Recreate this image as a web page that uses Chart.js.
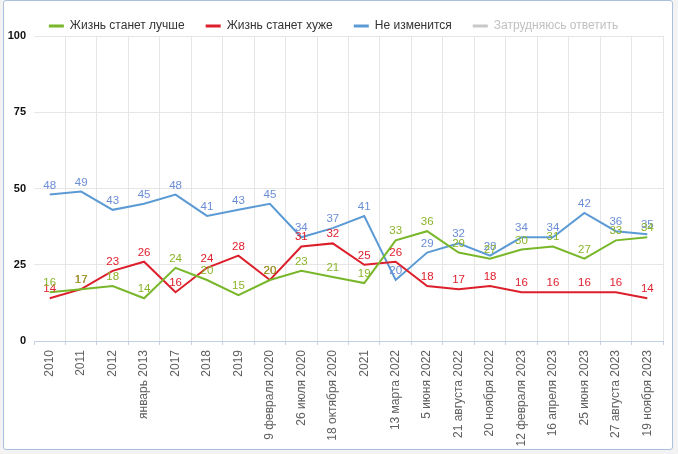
<!DOCTYPE html>
<html>
<head>
<meta charset="utf-8">
<script src="https://cdn.jsdelivr.net/npm/chart.js@4.4.1/dist/chart.umd.min.js"></script>
<style>
  html, body { margin: 0; padding: 0; background: #f3f3f3; width: 678px; height: 454px; overflow: hidden; }
  #box { position: absolute; left: 3px; top: 0px; width: 668px; height: 448px; border: 1px solid #a9bfdc; border-radius: 3px; background: #fff; }
  #c { display: block; }
</style>
</head>
<body>
<div id="box"><canvas id="c" width="668" height="448"></canvas></div>
<script>
const categories = ['2010', '2011', '2012', 'январь 2013', '2017', '2018', '2019', '9 февраля 2020', '26 июля 2020', '18 октября 2020', '2021', '13 марта 2022', '5 июня 2022', '21 августа 2022', '20 ноября 2022', '12 февраля 2023', '16 апреля 2023', '25 июня 2023', '27 августа 2023', '19 ноября 2023'];
const better = [16, 17, 18, 14, 24, 20, 15, 20, 23, 21, 19, 33, 36, 29, 27, 30, 31, 27, 33, 34];
const worse = [14, 17, 23, 26, 16, 24, 28, 20, 31, 32, 25, 26, 18, 17, 18, 16, 16, 16, 16, 14];
const same = [48, 49, 43, 45, 48, 41, 43, 45, 34, 37, 41, 20, 29, 32, 28, 34, 34, 42, 36, 35];
const hard = [];
const yTicks = [0, 25, 50, 75, 100];

const seriesNames = ['Жизнь станет лучше', 'Жизнь станет хуже', 'Не изменится', 'Затрудняюсь ответить'];
const lineColors = ['#78b72a', '#dc1f2b', '#5b9ad4', '#c8c8c8'];
const labelColors = ['#8bb42a', '#e0202e', '#6a8dd4', '#c8c8c8'];
const FONT = '"Liberation Sans", Arial, sans-serif';

const labelPlugin = {
  id: 'valueLabels',
  beforeLayout(chart) {
    const lg = chart.legend;
    if (lg && !lg._patched) {
      const orig = lg.fit;
      lg.fit = function () { orig.call(this); this.height -= 6; };
      lg._patched = true;
    }
  },
  afterDatasetsDraw(chart) {
    const ctx = chart.ctx;
    ctx.save();
    ctx.font = '11.5px ' + FONT;
    ctx.textAlign = 'center';
    ctx.textBaseline = 'alphabetic';
    for (let d = chart.data.datasets.length - 1; d >= 0; d--) {
      if (!chart.isDatasetVisible(d)) continue;
      const meta = chart.getDatasetMeta(d);
      const ds = chart.data.datasets[d];
      ctx.fillStyle = labelColors[d];
      meta.data.forEach((el, i) => {
        const v = ds.data[i];
        if (v == null) return;
        ctx.fillText(String(v), el.x, el.y - 6);
      });
    }
    ctx.restore();
  }
};

const makeDs = (i, data, hidden) => ({
  label: seriesNames[i],
  data: data,
  borderColor: lineColors[i],
  backgroundColor: lineColors[i],
  borderWidth: 2,
  pointRadius: 0,
  pointHoverRadius: 0,
  tension: 0,
  hidden: !!hidden
});

new Chart(document.getElementById('c'), {
  type: 'line',
  data: {
    labels: categories,
    datasets: [makeDs(0, better), makeDs(1, worse), makeDs(2, same), makeDs(3, hard, true)]
  },
  options: {
    responsive: false,
    animation: false,
    devicePixelRatio: 1,
    layout: { padding: { top: -2, right: 9, left: 0, bottom: 0 } },
    plugins: {
      tooltip: { enabled: false },
      legend: {
        display: true,
        position: 'top',
        labels: {
          boxWidth: 15,
          boxHeight: 3,
          padding: 21,
          font: { family: FONT, size: 12 },
          generateLabels(chart) {
            return chart.data.datasets.map((ds, i) => {
              const hid = !chart.isDatasetVisible(i);
              return {
                text: ds.label,
                fillStyle: hid ? '#c8c8c8' : lineColors[i],
                strokeStyle: hid ? '#c8c8c8' : lineColors[i],
                lineWidth: 0,
                hidden: false,
                fontColor: hid ? '#c0c0c0' : '#333333',
                datasetIndex: i
              };
            });
          }
        }
      }
    },
    scales: {
      x: {
        offset: true,
        grid: {
          offset: true,
          color: (c) => (c.index === 0 ? 'rgba(0,0,0,0)' : '#e6e6e6'),
          tickColor: '#c3d1e4',
          tickLength: 4,
          lineWidth: 1
        },
        border: { display: true, color: '#c3d1e4', width: 1 },
        ticks: {
          autoSkip: false,
          minRotation: 90,
          maxRotation: 90,
          padding: 5,
          color: '#606060',
          font: { family: FONT, size: 12 }
        },
        afterFit(s) { s.height = 108; }
      },
      y: {
        min: 0,
        max: 100,
        afterBuildTicks(s) { s.ticks = yTicks.map(v => ({ value: v })); },
        grid: { color: '#e6e6e6', drawTicks: false, lineWidth: 1 },
        border: { display: false },
        ticks: {
          padding: 8,
          color: '#111111',
          font: { family: FONT, size: 11, weight: 'bold' }
        },
        afterFit(s) { s.width = 30; }
      }
    }
  },
  plugins: [labelPlugin]
});
</script>
</body>
</html>
